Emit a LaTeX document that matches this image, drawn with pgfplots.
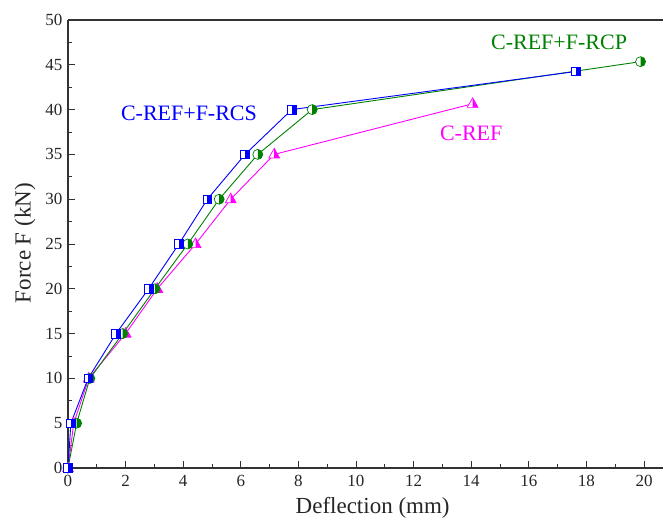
\documentclass[border=0pt]{standalone}
\usepackage{fontspec}
\setmainfont{Liberation Serif}
\usepackage{pgfplots}
\pgfplotsset{compat=1.18}
\definecolor{cRCS}{RGB}{0,0,255}
\definecolor{cRCP}{RGB}{0,128,0}
\definecolor{cREF}{RGB}{255,0,255}
\definecolor{axgray}{HTML}{333333}

% half-filled marks: white body, right half filled, outline
\pgfdeclareplotmark{hsquare}{%
  \begin{pgfscope}\pgfsetfillcolor{white}
  \pgfpathrectangle{\pgfpoint{-\pgfplotmarksize}{-\pgfplotmarksize}}{\pgfpoint{2\pgfplotmarksize}{2\pgfplotmarksize}}\pgfusepathqfill
  \end{pgfscope}
  \pgfpathrectangle{\pgfpoint{0pt}{-\pgfplotmarksize}}{\pgfpoint{\pgfplotmarksize}{2\pgfplotmarksize}}\pgfusepathqfill
  \pgfpathrectangle{\pgfpoint{-\pgfplotmarksize}{-\pgfplotmarksize}}{\pgfpoint{2\pgfplotmarksize}{2\pgfplotmarksize}}\pgfusepathqstroke}
\pgfdeclareplotmark{hcircle}{%
  \begin{pgfscope}\pgfsetfillcolor{white}
  \pgfpathcircle{\pgfpointorigin}{\pgfplotmarksize}\pgfusepathqfill
  \end{pgfscope}
  \pgfpathmoveto{\pgfpoint{0pt}{\pgfplotmarksize}}
  \pgfpatharc{90}{-90}{\pgfplotmarksize}\pgfpathclose\pgfusepathqfill
  \pgfpathcircle{\pgfpointorigin}{\pgfplotmarksize}\pgfusepathqstroke}
\pgfdeclareplotmark{htriangle}{%
  \begin{pgfscope}\pgfsetfillcolor{white}
  \pgfpathmoveto{\pgfpoint{0pt}{\pgfplotmarksize}}
  \pgfpathlineto{\pgfpoint{-0.9\pgfplotmarksize}{-0.6\pgfplotmarksize}}
  \pgfpathlineto{\pgfpoint{0.9\pgfplotmarksize}{-0.6\pgfplotmarksize}}\pgfpathclose\pgfusepathqfill
  \end{pgfscope}
  \pgfpathmoveto{\pgfpoint{0pt}{\pgfplotmarksize}}
  \pgfpathlineto{\pgfpoint{0.9\pgfplotmarksize}{-0.6\pgfplotmarksize}}
  \pgfpathlineto{\pgfpoint{0pt}{-0.6\pgfplotmarksize}}\pgfpathclose\pgfusepathqfill
  \pgfpathmoveto{\pgfpoint{0pt}{\pgfplotmarksize}}
  \pgfpathlineto{\pgfpoint{-0.9\pgfplotmarksize}{-0.6\pgfplotmarksize}}
  \pgfpathlineto{\pgfpoint{0.9\pgfplotmarksize}{-0.6\pgfplotmarksize}}\pgfpathclose\pgfusepathqstroke}

\begin{document}
\begin{tikzpicture}
\path[use as bounding box] (-68pt,-57pt) rectangle (595pt,468pt);
\begin{axis}[
  at={(0,0)}, anchor=south west,
  scale only axis, width=595pt, height=448pt,
  xmin=0, xmax=20.66, ymin=0, ymax=50,
  xtick={0,2,...,20}, ytick={0,5,...,50},
  minor x tick num=1, minor y tick num=1,
  axis x line=box, axis y line=left,
  axis line style={-, axgray, line width=1.3pt},
  xtick pos=bottom, ytick pos=left,
  tick align=inside, major tick length=7pt, minor tick length=4pt,
  every tick/.style={axgray, line width=0.9pt},
  /pgf/number format/assume math mode=true,
  xticklabel style={font=\fontsize{17}{20}\selectfont, text=black!85, yshift=-4pt},
  yticklabel style={font=\fontsize{17}{20}\selectfont, text=black!85, xshift=-2pt},
  xlabel={Deflection (mm)}, ylabel={Force F (kN)},
  label style={font=\fontsize{23}{26}\selectfont, text=black!85},
  xlabel style={at={(axis description cs:0.512,-0.09)}, anchor=center},
  ylabel style={at={(axis description cs:-0.0723,0.502)}, anchor=center},
  clip=false,
]
\addplot[cREF, line width=0.9pt, mark=htriangle, mark size=6pt,
  mark options={fill=cREF, draw=cREF, line width=0.7pt}] coordinates {
  (0,0) (0.2,5) (0.72,10) (2.0,15) (3.1,20) (4.43,25) (5.65,30) (7.16,35) (14.05,40.65)};
\addplot[cRCP, line width=0.9pt, mark=hcircle, mark size=5pt,
  mark options={fill=cRCP, draw=cRCP, line width=0.7pt}] coordinates {
  (0,0) (0.3,5) (0.76,10) (1.9,15) (3.02,20) (4.16,25) (5.25,30) (6.59,35) (8.48,40) (19.88,45.35)};
\addplot[cRCS, line width=0.9pt, mark=hsquare, mark size=4.3pt,
  mark options={fill=cRCS, draw=cRCS, line width=0.7pt}] coordinates {
  (0,0) (0.1,5) (0.7,10) (1.67,15) (2.8,20) (3.85,25) (4.84,30) (6.15,35) (7.77,40) (17.63,44.25)};
\node[cRCS, font=\fontsize{22}{26}\selectfont] at (axis cs:4.2,39.6) {C-REF+F-RCS};
\node[cRCP, font=\fontsize{22}{26}\selectfont] at (axis cs:17.05,47.5) {C-REF+F-RCP};
\node[cREF, font=\fontsize{22}{26}\selectfont] at (axis cs:14.0,37.3) {C-REF};
\end{axis}
\end{tikzpicture}
\end{document}
